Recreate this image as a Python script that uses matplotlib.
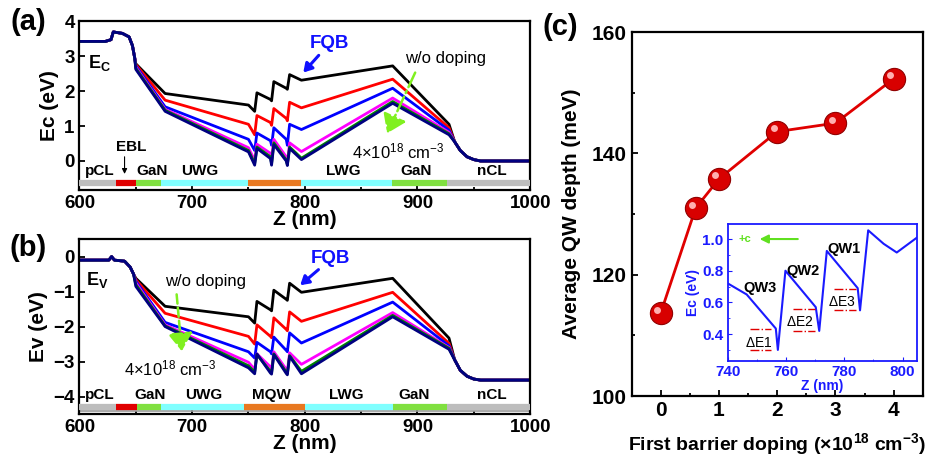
import matplotlib
matplotlib.use("Agg")
import matplotlib.pyplot as plt
import matplotlib.transforms as mtransforms
from matplotlib.ticker import MultipleLocator, FormatStrFormatter

plt.rcParams["font.family"] = ["Liberation Sans", "DejaVu Sans"]
plt.rcParams["mathtext.fontset"] = "custom"
plt.rcParams["mathtext.rm"] = "Liberation Sans"
plt.rcParams["mathtext.bf"] = "Liberation Sans:bold"
plt.rcParams["mathtext.it"] = "Liberation Sans:italic"
plt.rcParams["mathtext.default"] = "regular"

# ---------------- data ----------------
curve_colors = ["#000000", "#ff0000", "#0000ff", "#ff00ff", "#008000", "#000080"]

# shared knots between EBL end and nCL start
mid_z = [650, 676, 750, 755.5, 757.5, 769.5, 770.5, 772.5, 783.5, 784.5, 786.5, 797, 878, 928]

ec_pre_z = [600, 623, 628, 630, 638, 644, 647, 649]
ec_pre = [3.42, 3.42, 3.47, 3.69, 3.65, 3.55, 3.30, 2.95]
ec_post_z = [933, 938, 944, 950, 956, 1000]
ec_post = [0.55, 0.30, 0.12, 0.04, 0.0, 0.0]
ec_mid = [
    [2.78, 1.93, 1.60, 1.42, 1.95, 1.76, 1.72, 2.27, 2.08, 2.05, 2.47, 2.31, 2.72, 1.05],
    [2.76, 1.74, 1.05, 0.75, 1.30, 1.10, 1.02, 1.50, 1.22, 1.15, 1.68, 1.52, 2.34, 0.95],
    [2.72, 1.55, 0.62, 0.30, 0.80, 0.58, 0.45, 0.95, 0.62, 0.45, 1.05, 0.90, 2.08, 0.88],
    [2.68, 1.48, 0.38, 0.02, 0.48, 0.22, 0.10, 0.62, 0.12, -0.05, 0.52, 0.27, 1.80, 0.82],
    [2.65, 1.45, 0.30, -0.07, 0.40, 0.12, -0.07, 0.52, 0.03, -0.10, 0.40, 0.08, 1.70, 0.78],
    [2.62, 1.42, 0.26, -0.12, 0.36, 0.07, -0.12, 0.47, 0.00, -0.13, 0.36, 0.04, 1.65, 0.75],
]

ev_pre_z = [600, 626, 628.5, 631, 640, 645, 648]
ev_pre = [-0.10, -0.10, 0.0, -0.10, -0.13, -0.30, -0.50]
ev_post_z = [933, 938, 944, 950, 956, 1000]
ev_post = [-2.95, -3.25, -3.42, -3.50, -3.53, -3.53]
ev_mid = [
    [-0.62, -1.42, -1.72, -1.90, -1.28, -1.52, -1.55, -0.96, -1.22, -1.25, -0.76, -1.02, -0.62, -2.33],
    [-0.66, -1.62, -2.28, -2.50, -1.95, -2.28, -2.32, -1.75, -2.08, -2.12, -1.58, -1.85, -1.02, -2.48],
    [-0.70, -1.88, -2.72, -2.90, -2.45, -2.72, -2.78, -2.30, -2.68, -2.72, -2.18, -2.47, -1.30, -2.55],
    [-0.75, -1.95, -3.02, -3.22, -2.78, -3.15, -3.22, -2.72, -3.22, -3.28, -2.75, -3.08, -1.60, -2.60],
    [-0.80, -1.98, -3.12, -3.30, -2.80, -3.28, -3.32, -2.78, -3.30, -3.35, -2.83, -3.28, -1.68, -2.62],
    [-0.85, -2.00, -3.18, -3.35, -2.78, -3.33, -3.36, -2.80, -3.34, -3.38, -2.85, -3.35, -1.72, -2.65],
]

# layer bar: (start, end, colour)
layers_a = [(600, 632, "#bdbdbd"), (632, 650, "#e00000"), (650, 672, "#80e040"),
            (672, 750, "#80ffff"), (750, 797, "#e87820"), (797, 877, "#80ffff"),
            (877, 926, "#80e040"), (926, 1000, "#bdbdbd")]
layers_b = [(600, 632, "#bdbdbd"), (632, 651, "#e00000"), (651, 672, "#80e040"),
            (672, 746, "#80ffff"), (746, 800, "#e87820"), (800, 878, "#80ffff"),
            (878, 926, "#80e040"), (926, 1000, "#bdbdbd")]
labels_a = [("pCL", 618), ("GaN", 664), ("UWG", 707), ("LWG", 834), ("GaN", 899), ("nCL", 966)]
labels_b = [("pCL", 618), ("GaN", 663), ("UWG", 710), ("MQW", 770), ("LWG", 837), ("GaN", 897), ("nCL", 966)]

doping = [0, 0.6, 1, 2, 3, 4]
qw_depth = [113.7, 131.0, 135.8, 143.6, 145.0, 152.3]

inset_z = [740, 746.5, 756.5, 757.2, 759.8, 770.2, 771.4, 774.0, 784.6, 785.4, 788.2, 793.5, 798, 805]
inset_ec = [0.72, 0.65, 0.435, 0.30, 0.80, 0.57, 0.42, 0.925, 0.69, 0.55, 1.055, 0.97, 0.915, 1.01]
# delta E markers: (x0, x1, y_upper, y_lower, label, label_x, label_y)
delta_e = [(747.5, 755, 0.43, 0.30, r"$\Delta$E1", 750.5, 0.345),
           (762.5, 770, 0.56, 0.42, r"$\Delta$E2", 764.7, 0.478),
           (776.5, 784, 0.685, 0.55, r"$\Delta$E3", 779.0, 0.605)]
qw_labels = [("QW3", 751, 0.69), ("QW2", 766, 0.80), ("QW1", 780, 0.94)]


def build(pre_z, pre, mid, post_z, post):
    return pre_z + mid_z + post_z, pre + mid + post


def style_axes(ax):
    for sp in ax.spines.values():
        sp.set_linewidth(1.6)
    ax.tick_params(which="both", direction="in", width=1.3)
    ax.tick_params(which="major", length=4)
    ax.tick_params(which="minor", length=2.5)
    for lab in ax.get_xticklabels() + ax.get_yticklabels():
        lab.set_fontweight("bold")


def layer_bar(ax, layers, y, gray_y=None):
    if gray_y is not None:
        ax.plot([600, 1000], [gray_y, gray_y], color="#9a9a9a", lw=1.2, zorder=2)
    for z0, z1, c in layers:
        ax.plot([z0, z1], [y, y], color=c, lw=4.5, solid_capstyle="butt", zorder=3)


fig = plt.figure(figsize=(9.33, 4.59), dpi=100)

# ---------------- (a) ----------------
ax_a = fig.add_axes([0.0852, 0.586, 0.483, 0.368])
for c, mid in zip(curve_colors, ec_mid):
    z, e = build(ec_pre_z, ec_pre, mid, ec_post_z, ec_post)
    ax_a.plot(z, e, color=c, lw=2)
ax_a.set_xlim(600, 1000)
ax_a.set_ylim(-0.83, 4)
ax_a.xaxis.set_major_locator(MultipleLocator(100))
ax_a.xaxis.set_minor_locator(MultipleLocator(50))
ax_a.yaxis.set_major_locator(MultipleLocator(1))
ax_a.tick_params(labelsize=13.5)
ax_a.set_xlabel("Z (nm)", fontsize=15, fontweight="bold", labelpad=-1)
ax_a.set_ylabel("Ec (eV)", fontsize=15, fontweight="bold", labelpad=4)
style_axes(ax_a)
layer_bar(ax_a, layers_a, -0.64)
for txt, z in labels_a:
    ax_a.text(z, -0.28, txt, ha="center", va="center", fontsize=11, fontweight="bold")
ax_a.text(646, 0.40, "EBL", ha="center", va="center", fontsize=11, fontweight="bold")
ax_a.annotate("", xy=(640, -0.45), xytext=(640, 0.2),
              arrowprops=dict(arrowstyle="-|>,head_width=0.15,head_length=0.3", color="black", lw=0.8))
ax_a.text(618, 2.8, r"$\mathbf{E_C}$", ha="center", va="center", fontsize=13)
ax_a.text(822, 3.37, "FQB", ha="center", va="center", fontsize=13.5, fontweight="bold", color="#1010ff")
ax_a.annotate("", xy=(797, 2.47), xytext=(814, 3.08),
              arrowprops=dict(arrowstyle="-|>,head_width=0.3,head_length=0.5", color="#1010ff", lw=2.2))
ax_a.text(925, 2.92, "w/o doping", ha="center", va="center", fontsize=12)
ax_a.annotate("", xy=(872, 0.72), xytext=(899, 2.6),
              arrowprops=dict(arrowstyle="-|>,head_width=0.75,head_length=1.1", color="#80f020",
                              lw=1.8, linestyle="-."))
ax_a.text(883, 0.27, r"4$\times$10$^{18}$ cm$^{-3}$", ha="center", va="center", fontsize=12)

# ---------------- (b) ----------------
ax_b = fig.add_axes([0.0852, 0.098, 0.483, 0.381])
for c, mid in zip(curve_colors, ev_mid):
    z, e = build(ev_pre_z, ev_pre, mid, ev_post_z, ev_post)
    ax_b.plot(z, e, color=c, lw=2)
ax_b.set_xlim(600, 1000)
ax_b.set_ylim(-4.5, 0.5)
ax_b.xaxis.set_major_locator(MultipleLocator(100))
ax_b.xaxis.set_minor_locator(MultipleLocator(50))
ax_b.yaxis.set_major_locator(MultipleLocator(1))
ax_b.tick_params(labelsize=13.5)
ax_b.set_xlabel("Z (nm)", fontsize=15, fontweight="bold", labelpad=-1)
ax_b.set_ylabel("Ev (eV)", fontsize=15, fontweight="bold", labelpad=4)
style_axes(ax_b)
layer_bar(ax_b, layers_b, -4.30, gray_y=-4.42)
for txt, z in labels_b:
    ax_b.text(z, -3.96, txt, ha="center", va="center", fontsize=11, fontweight="bold")
ax_b.text(616, -0.66, r"$\mathbf{E_V}$", ha="center", va="center", fontsize=13)
ax_b.text(823, -0.04, "FQB", ha="center", va="center", fontsize=13.5, fontweight="bold", color="#1010ff")
ax_b.annotate("", xy=(794, -0.87), xytext=(814, -0.32),
              arrowprops=dict(arrowstyle="-|>,head_width=0.3,head_length=0.5", color="#1010ff", lw=2.2))
ax_b.text(712, -0.72, "w/o doping", ha="center", va="center", fontsize=12)
ax_b.annotate("", xy=(691, -2.78), xytext=(686, -1.0),
              arrowprops=dict(arrowstyle="-|>,head_width=0.75,head_length=1.1", color="#80f020",
                              lw=1.8, linestyle="--"))
ax_b.text(681, -3.19, r"4$\times$10$^{18}$ cm$^{-3}$", ha="center", va="center", fontsize=12)

# ---------------- (c) ----------------
ax_c = fig.add_axes([0.677, 0.137, 0.312, 0.793])
ax_c.plot(doping, qw_depth, color="#e00000", lw=2, zorder=2)
ax_c.plot(doping, qw_depth, "o", ms=16, markerfacecolor="#d80000",
          markeredgecolor="#900000", markeredgewidth=0.8, zorder=3)
hl = mtransforms.offset_copy(ax_c.transData, fig=fig, x=-2.5, y=2.5, units="points")
ax_c.plot(doping, qw_depth, "o", ms=5, markerfacecolor="#ffb0b0", markeredgewidth=0,
          transform=hl, zorder=4)
ax_c.set_xlim(-0.5, 4.5)
ax_c.set_ylim(100, 160)
ax_c.xaxis.set_major_locator(MultipleLocator(1))
ax_c.xaxis.set_minor_locator(MultipleLocator(0.5))
ax_c.yaxis.set_major_locator(MultipleLocator(20))
ax_c.yaxis.set_minor_locator(MultipleLocator(10))
ax_c.tick_params(labelsize=15)
ax_c.set_xlabel(r"First barrier doping ($\mathbf{\times}$10$^{\mathbf{18}}$ cm$^{\mathbf{-3}}$)",
                fontsize=14, fontweight="bold", labelpad=8)
ax_c.set_ylabel("Average QW depth (meV)", fontsize=15, fontweight="bold", labelpad=8)
style_axes(ax_c)

# inset
ax_i = fig.add_axes([0.780, 0.2135, 0.203, 0.2985])
ax_i.plot(inset_z, inset_ec, color="#1a1aff", lw=1.5)
for x0, x1, yu, yl, lab, lx, ly in delta_e:
    ax_i.plot([x0, x1], [yu, yu], color="#e00000", lw=1, linestyle="-.")
    ax_i.plot([x0, x1], [yl, yl], color="#e00000", lw=1, linestyle="-.")
    ax_i.text(lx, ly, lab, ha="center", va="center", fontsize=10)
for lab, lx, ly in qw_labels:
    ax_i.text(lx, ly, lab, ha="center", va="center", fontsize=10.5, fontweight="bold")
ax_i.text(746, 1.0, "+c", ha="center", va="center", fontsize=8, fontweight="bold", color="#60e020")
ax_i.annotate("", xy=(750, 1.0), xytext=(765, 1.0),
              arrowprops=dict(arrowstyle="-|>,head_width=0.25,head_length=0.5", color="#60e020", lw=1.5))
ax_i.set_xlim(740, 805)
ax_i.set_ylim(0.23, 1.095)
ax_i.xaxis.set_major_locator(MultipleLocator(20))
ax_i.xaxis.set_minor_locator(MultipleLocator(10))
ax_i.yaxis.set_major_locator(MultipleLocator(0.2))
ax_i.yaxis.set_minor_locator(MultipleLocator(0.1))
ax_i.tick_params(which="both", direction="in", colors="#1a1aff", labelsize=11, pad=3)
ax_i.tick_params(which="major", length=3)
ax_i.tick_params(which="minor", length=1.5)
for sp in ax_i.spines.values():
    sp.set_color("#1a1aff")
    sp.set_linewidth(1.3)
for lab in ax_i.get_xticklabels() + ax_i.get_yticklabels():
    lab.set_fontweight("bold")
ax_i.yaxis.set_major_formatter(FormatStrFormatter("%.1f"))
ax_i.set_xlabel("Z (nm)", fontsize=10, fontweight="bold", color="#1a1aff", labelpad=0)
ax_i.set_ylabel("Ec (eV)", fontsize=10, fontweight="bold", color="#1a1aff", labelpad=2)

# panel letters
fig.text(0.030, 0.952, "(a)", fontsize=21, fontweight="bold", ha="center", va="center")
fig.text(0.030, 0.460, "(b)", fontsize=21, fontweight="bold", ha="center", va="center")
fig.text(0.601, 0.941, "(c)", fontsize=21, fontweight="bold", ha="center", va="center")

fig.savefig("out.png", dpi=100)
